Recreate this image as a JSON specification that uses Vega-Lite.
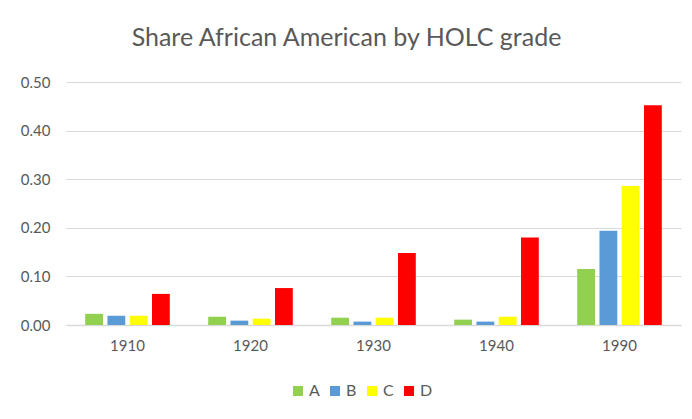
{
  "$schema": "https://vega.github.io/schema/vega-lite/v6.json",
  "width": 615,
  "height": 243,
  "autosize": {"type": "none"},
  "padding": {"left": 66, "top": 82, "right": 11, "bottom": 94},
  "background": "white",
  "title": {
    "text": "Share African American by HOLC grade",
    "anchor": "middle",
    "dx": -27,
    "offset": 24,
    "fontSize": 25,
    "font": "Lato",
    "fontWeight": "normal",
    "color": "#595959"
  },
  "data": {
    "values": [
      {"year": "1910", "grade": "A", "share": 0.023},
      {"year": "1910", "grade": "B", "share": 0.019},
      {"year": "1910", "grade": "C", "share": 0.019},
      {"year": "1910", "grade": "D", "share": 0.064},
      {"year": "1920", "grade": "A", "share": 0.017},
      {"year": "1920", "grade": "B", "share": 0.009},
      {"year": "1920", "grade": "C", "share": 0.013},
      {"year": "1920", "grade": "D", "share": 0.076},
      {"year": "1930", "grade": "A", "share": 0.015},
      {"year": "1930", "grade": "B", "share": 0.007},
      {"year": "1930", "grade": "C", "share": 0.015},
      {"year": "1930", "grade": "D", "share": 0.148},
      {"year": "1940", "grade": "A", "share": 0.011},
      {"year": "1940", "grade": "B", "share": 0.007},
      {"year": "1940", "grade": "C", "share": 0.017},
      {"year": "1940", "grade": "D", "share": 0.18},
      {"year": "1990", "grade": "A", "share": 0.115},
      {"year": "1990", "grade": "B", "share": 0.194},
      {"year": "1990", "grade": "C", "share": 0.286},
      {"year": "1990", "grade": "D", "share": 0.452}
    ]
  },
  "mark": {"type": "bar"},
  "encoding": {
    "x": {
      "field": "year",
      "type": "nominal",
      "scale": {"paddingInner": 0.276, "paddingOuter": 0.138},
      "axis": {
        "title": null,
        "labelAngle": 0,
        "labelFont": "Lato",
        "labelFontSize": 15,
        "labelColor": "#595959",
        "labelPadding": 13,
        "ticks": false,
        "domainColor": "#d9d9d9",
        "domainWidth": 1.5
      }
    },
    "xOffset": {
      "field": "grade",
      "type": "nominal",
      "scale": {"paddingInner": 0.2, "paddingOuter": 0.1}
    },
    "y": {
      "field": "share",
      "type": "quantitative",
      "scale": {"domain": [0, 0.5], "nice": false},
      "axis": {
        "title": null,
        "format": ".2f",
        "values": [0, 0.1, 0.2, 0.3, 0.4, 0.5],
        "labelFont": "Lato",
        "labelFontSize": 15,
        "labelColor": "#595959",
        "labelPadding": 16,
        "ticks": false,
        "domain": false,
        "gridColor": "#d9d9d9",
        "gridWidth": 1
      }
    },
    "color": {
      "field": "grade",
      "type": "nominal",
      "scale": {"domain": ["A", "B", "C", "D"], "range": ["#92D050", "#5B9BD5", "#FFFF00", "#FF0000"]},
      "legend": {
        "title": null,
        "orient": "none",
        "direction": "horizontal",
        "legendX": 224,
        "legendY": 301,
        "symbolType": "square",
        "symbolSize": 100,
        "symbolStrokeWidth": 0,
        "labelFont": "Lato",
        "labelFontSize": 16,
        "labelColor": "#595959",
        "labelOffset": 3,
        "columnPadding": 7
      }
    }
  },
  "config": {"view": {"stroke": null}}
}
